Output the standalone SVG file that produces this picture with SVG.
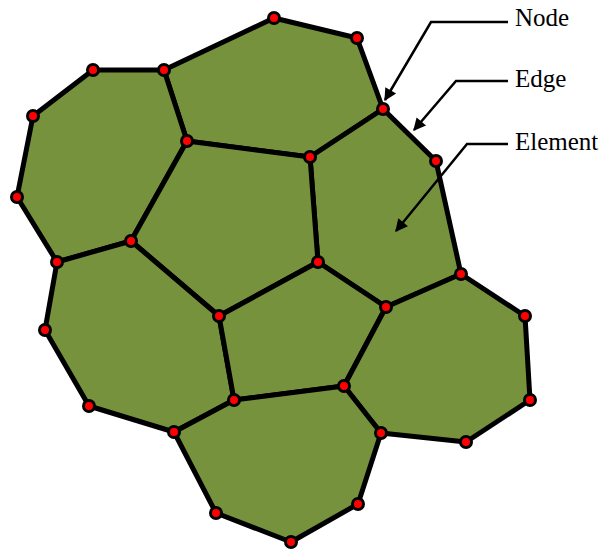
<svg xmlns="http://www.w3.org/2000/svg" width="603" height="550" viewBox="0 0 603 550">
<defs>
<style>
.el{fill:#76923C;stroke:#000;stroke-width:5;stroke-linejoin:round}
.nd{fill:#FF0000;stroke:#000;stroke-width:3}
.ld{fill:none;stroke:#000;stroke-width:2.5}
.lb{font-family:"Liberation Serif","Times New Roman",serif;font-size:25px;fill:#000}
</style>
<marker id="ah" viewBox="0 0 10 10" refX="9" refY="5" markerWidth="6" markerHeight="5" markerUnits="strokeWidth" orient="auto">
<path d="M0,0 L10,5 L0,10 Z" fill="#000"/>
</marker>
</defs>
<g id="elements">
<polygon id="e1" class="el" points="164,70 274,18 357,38 383,109 310,157 187,141"/>
<polygon id="e2" class="el" points="383,109 436,161 461,274 386,307 318,262 310,157"/>
<polygon id="e3" class="el" points="93,70 164,70 187,141 131,241 57,262 17,197 33,116"/>
<polygon id="e4" class="el" points="187,141 310,157 318,262 219,316 131,241"/>
<polygon id="e5" class="el" points="57,262 131,241 219,316 234,400 174,432 89,406 45,330"/>
<polygon id="e6" class="el" points="219,316 318,262 386,307 344,386 234,400"/>
<polygon id="e7" class="el" points="386,307 461,274 525,316 530,400 466,442 381,433 344,386"/>
<polygon id="e8" class="el" points="234,400 344,386 381,433 358,504 291,542 216,513 174,432"/>
</g>
<g id="nodes">
<circle class="nd" cx="274" cy="18" r="5.5"/>
<circle class="nd" cx="357" cy="38" r="5.5"/>
<circle class="nd" cx="383" cy="109" r="5.5"/>
<circle class="nd" cx="436" cy="161" r="5.5"/>
<circle class="nd" cx="461" cy="274" r="5.5"/>
<circle class="nd" cx="525" cy="316" r="5.5"/>
<circle class="nd" cx="530" cy="400" r="5.5"/>
<circle class="nd" cx="466" cy="442" r="5.5"/>
<circle class="nd" cx="381" cy="433" r="5.5"/>
<circle class="nd" cx="358" cy="504" r="5.5"/>
<circle class="nd" cx="291" cy="542" r="5.5"/>
<circle class="nd" cx="216" cy="513" r="5.5"/>
<circle class="nd" cx="174" cy="432" r="5.5"/>
<circle class="nd" cx="89" cy="406" r="5.5"/>
<circle class="nd" cx="45" cy="330" r="5.5"/>
<circle class="nd" cx="57" cy="262" r="5.5"/>
<circle class="nd" cx="17" cy="197" r="5.5"/>
<circle class="nd" cx="33" cy="116" r="5.5"/>
<circle class="nd" cx="93" cy="70" r="5.5"/>
<circle class="nd" cx="164" cy="70" r="5.5"/>
<circle class="nd" cx="187" cy="141" r="5.5"/>
<circle class="nd" cx="310" cy="157" r="5.5"/>
<circle class="nd" cx="318" cy="262" r="5.5"/>
<circle class="nd" cx="386" cy="307" r="5.5"/>
<circle class="nd" cx="344" cy="386" r="5.5"/>
<circle class="nd" cx="234" cy="400" r="5.5"/>
<circle class="nd" cx="219" cy="316" r="5.5"/>
<circle class="nd" cx="131" cy="241" r="5.5"/>
</g>
<g id="leaders">
<polyline class="ld" points="508,22 431,22 385,100" marker-end="url(#ah)"/>
<polyline class="ld" points="508,81 456,81 414,130" marker-end="url(#ah)"/>
<polyline class="ld" points="508,144 467,144 396,231" marker-end="url(#ah)"/>
</g>
<g id="labels">
<text class="lb" x="515" y="26">Node</text>
<text class="lb" x="515" y="87">Edge</text>
<text class="lb" x="515" y="150">Element</text>
</g>
</svg>
